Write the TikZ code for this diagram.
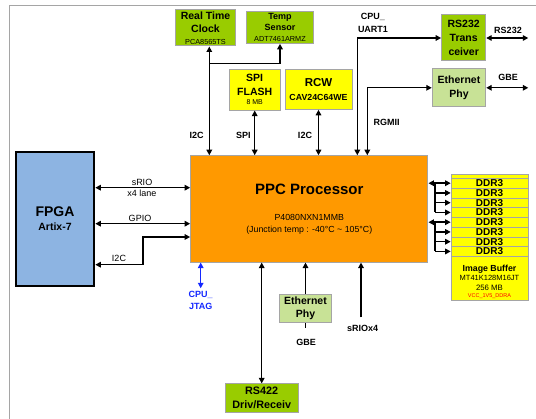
\documentclass[tikz,border=0pt]{standalone}
\usepackage{fontspec}
\setmainfont{Liberation Sans}
\usetikzlibrary{arrows.meta,calc}
\definecolor{verdechip}{RGB}{153,204,0}
\definecolor{verdeclaro}{RGB}{200,226,150}
\definecolor{amarillochip}{RGB}{255,255,0}
\definecolor{naranjacpu}{RGB}{255,153,0}
\definecolor{azulfpga}{RGB}{141,180,226}
\definecolor{grisborde}{RGB}{165,165,165}
\definecolor{azuljtag}{RGB}{20,40,255}
\newcommand{\tam}[2]{\fontsize{#1}{#2}\selectfont}
\tikzset{
  chip/.style={
    draw=grisborde,
    line width=1pt,
    align=center,
    inner sep=0pt,
    font=\bfseries
  },
  fila/.style={
    chip,
    fill=amarillochip,
    line width=.6pt,
    minimum width=77pt,
    minimum height=9.75pt,
    font=\bfseries\tam{10}{10}
  },
  etiqueta/.style={
    align=center,
    inner sep=0pt,
    font=\bfseries\tam{9}{12}
  },
  linea/.style={
    line width=1.4pt,
    black
  },
  flecha/.style={
    linea,
    -{Triangle[length=5.5pt,width=5.5pt]}
  },
  doble/.style={
    linea,
    {Triangle[length=5.5pt,width=5.5pt]}-{Triangle[length=5.5pt,width=5.5pt]}
  }
}

\begin{document}
\begin{tikzpicture}[x=1pt,y=-1pt]
\useasboundingbox (0,0) rectangle (536,419);
\draw[grisborde, line width=1pt] (536,5.5) -- (9.5,5.5) -- (9.5,419);
\node[chip, fill=azulfpga, draw=black, line width=2pt, minimum width=78.6pt, minimum height=134.3pt, font=\bfseries\tam{10.5}{13.8}] (fpga) at (55,218.9) {{\tam{14}{13.8}FPGA}\\Artix-7};
\node[chip, fill=naranjacpu, minimum width=237.3pt, minimum height=106.3pt, font=\tam{8.8}{12}] (ppc) at (309.3,208.9) {{\bfseries\tam{15}{12}PPC Processor}\\[13.8pt]P4080NXN1MMB\\(Junction temp : -40°C \textasciitilde{} 105°C)};
\node[chip, fill=verdechip, minimum width=59.6pt, minimum height=36pt, font=\bfseries\tam{10.5}{11.2}] (rtc) at (205.5,28) {Real Time\\[2.1pt]Clock\\{\mdseries\tam{7.3}{11.2}PCA8565TS}};
\node[chip, fill=verdechip, minimum width=66.6pt, minimum height=31.6pt, font=\bfseries\tam{9}{10.4}] (temp) at (280,27.5) {Temp\\[0.6pt]Sensor\\{\mdseries\tam{7.3}{10.4}ADT7461ARMZ}};
\node[chip, fill=amarillochip, minimum width=50.7pt, minimum height=40.7pt, font=\bfseries\tam{10.5}{9.4}] (spi) at (254.7,89.7) {SPI\\[3.9pt]FLASH\\{\mdseries\tam{7}{9.4}8 MB}};
\node[chip, fill=amarillochip, minimum width=67pt, minimum height=40pt, font=\bfseries\tam{11.5}{13.8}] (rcw) at (318.5,89.3) {RCW\\{\tam{8.8}{13.8}CAV24C64WE}};
\node[chip, fill=verdechip, minimum width=44pt, minimum height=46pt, font=\bfseries\tam{10.5}{14}] (rs232) at (463.7,38) {RS232\\Trans\\ceiver};
\node[chip, fill=verdeclaro, minimum width=53.4pt, minimum height=37.7pt, font=\bfseries\tam{10.5}{13.3}] (etht) at (459,87.8) {Ethernet\\Phy};
\node[chip, fill=verdechip, minimum width=73.3pt, minimum height=28.7pt, font=\bfseries\tam{10.8}{14}] (rs422) at (261.7,398.3) {RS422\\Driv/Receiv};
\node[chip, fill=verdeclaro, minimum width=52.4pt, minimum height=28pt, font=\bfseries\tam{10.5}{13.3}] (ethb) at (305.5,308.3) {Ethernet\\Phy};
\node[chip, fill=amarillochip, minimum width=77pt, minimum height=126pt] (ddr) at (489.5,238) {};
\foreach \i in {1,...,8}
  \node[fila] (d\i) at (489.5,{183.2+9.75*(\i-1)}) {DDR3};
\node[etiqueta, font=\tam{7.5}{7.5}] (buf) at (489.5,282) {{\bfseries\tam{8.8}{7.5}Image Buffer}\\[2pt]MT41K128M16JT\\[2pt]{\tam{7.8}{7.5}256 MB}\\{\color{red}\tam{5.5}{7.5}VCC\_1V5\_DDRA}};

\node[etiqueta] (i2ca) at (196.7,135) {I2C};
\node[etiqueta] (spil) at (243.3,135) {SPI};
\node[etiqueta] (i2cb) at (305,135) {I2C};
\node[etiqueta, font=\bfseries\tam{9}{12.6}] (uartl) at (373,23) {CPU\_\\UART1};
\node[etiqueta] (rgmiil) at (386.7,122.3) {RGMII};
\node[etiqueta] (rs232l) at (508,30) {RS232};
\node[etiqueta] (gbet) at (508,77.3) {GBE};
\node[etiqueta, font=\tam{9}{11}] (sriol) at (142,187.5) {sRIO\\x4 lane};
\node[etiqueta, font=\tam{9}{11}] (gpiol) at (140,218) {GPIO};
\node[etiqueta, font=\tam{9}{11}] (i2cl) at (119,258) {I2C};
\node[etiqueta, text=azuljtag, font=\bfseries\tam{9}{12.4}] (jtagl) at (200.7,300.5) {CPU\_\\JTAG};
\node[etiqueta] (gbeb) at (306,342.7) {GBE};
\node[etiqueta] (sriob) at (362.7,328.3) {sRIOx4};

\draw[doble] ([xshift=3.8pt]rtc.south) -- ([xshift=3.8pt]rtc.south |- ppc.north);
\draw[flecha] ($([xshift=3.8pt]rtc.south)+(0,17.3)$) -| (temp.south);
\draw[doble] (spi.south) -- (spi.south |- ppc.north);
\draw[doble] (rcw.south) -- (rcw.south |- ppc.north);
\coordinate (uart) at (357.3,0);
\coordinate (rgmii) at (367.3,0);
\coordinate (borde) at (528.3,0);
\draw[doble] (uart |- ppc.north) |- (rs232.west);
\draw[doble] (rgmii |- ppc.north) |- (etht.west);
\draw[doble] (rs232.east) -- (borde |- rs232.east);
\draw[doble] (etht.east) -- (borde |- etht.east);

\draw[doble] (fpga.east |- 0,187.7) -- (ppc.west |- 0,187.7);
\draw[doble] (fpga.east |- 0,223.7) -- (ppc.west |- 0,223.7);
\draw[doble] (ppc.west |- 0,237) -- (143,237) -- (143,264.7) -- (fpga.east |- 0,264.7);

\coordinate (tronco) at (435,0);
\draw[doble] (ppc.east |- d1.west) -- (d1.west);
\draw[doble] (ppc.east |- d5.west) -- (d5.west);
\draw[linea] (tronco |- d1.west) -- (tronco |- d4.west);
\draw[linea] (tronco |- d5.west) -- (tronco |- d8.west);
\foreach \i in {2,3,4,6,7,8}
  \draw[flecha] (tronco |- d\i.west) -- (d\i.west);

\coordinate (jtag) at (200.7,288.3);
\coordinate (gbefin) at (306,328.3);
\coordinate (srio) at (361,317.3);
\draw[doble, azuljtag] (jtag |- ppc.south) -- (jtag);
\draw[doble] (rs422.north |- ppc.south) -- (rs422.north);
\draw[flecha] (ethb.north) -- (ethb.north |- ppc.south);
\draw[linea] (ethb.south) -- (ethb.south |- gbefin);
\draw[flecha] (srio) -- (srio |- ppc.south);
\end{tikzpicture}
\end{document}
